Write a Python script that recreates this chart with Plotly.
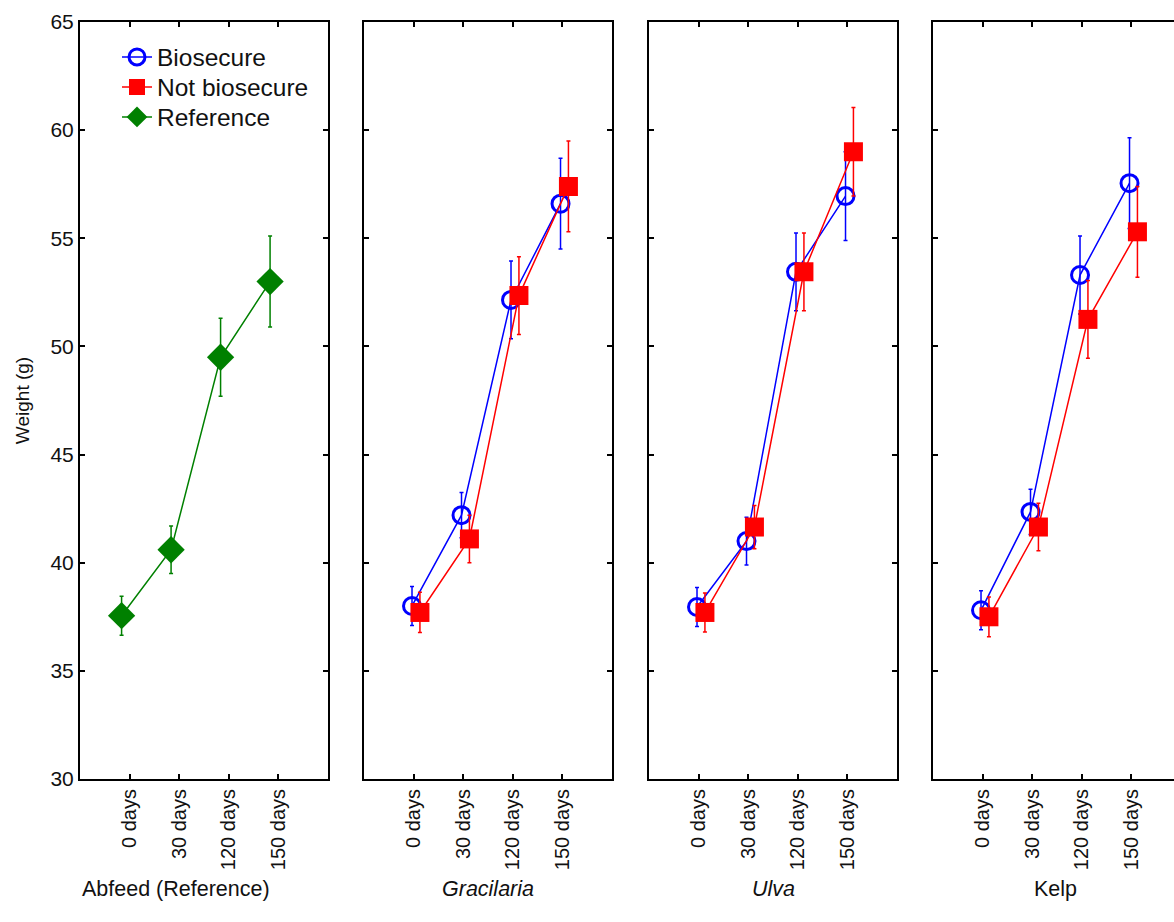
import plotly.graph_objects as go

days = ["0 days", "30 days", "120 days", "150 days"]
panels = ["Abfeed (Reference)", "<i>Gracilaria</i>", "<i>Ulva</i>", "Kelp"]

ref_mean = [37.55, 40.6, 49.5, 53.0]
ref_err = [0.9, 1.1, 1.8, 2.1]

grac_bio = [38.0, 42.2, 52.15, 56.6]
grac_bio_err = [0.9, 1.05, 1.8, 2.1]
grac_not = [37.7, 41.1, 52.35, 57.4]
grac_not_err = [0.93, 1.1, 1.8, 2.1]

ulva_bio = [37.95, 41.0, 53.45, 56.95]
ulva_bio_err = [0.9, 1.1, 1.8, 2.05]
ulva_not = [37.7, 41.65, 53.45, 59.0]
ulva_not_err = [0.9, 1.0, 1.8, 2.05]

kelp_bio = [37.8, 42.35, 53.3, 57.55]
kelp_bio_err = [0.9, 1.05, 1.8, 2.1]
kelp_not = [37.5, 41.65, 51.25, 55.3]
kelp_not_err = [0.92, 1.1, 1.8, 2.1]

W, H = 1174, 922
TOP, BOTTOM = 22, 779
PH = BOTTOM - TOP
FONT = "Arial, Liberation Sans, sans-serif"
TXT = "#111111"
BLUE, RED, GREEN = "#0000ff", "#ff0000", "#008000"

pos = [1, 2, 3, 4]
OFF_G, OFF_B, OFF_R = -0.16, -0.03, 0.13

fig = go.Figure()

def add(axis_i, vals, errs, color, name, symbol, size, off, showlegend, legend, lw_marker=0):
    sfx = "" if axis_i == 1 else str(axis_i)
    fig.add_trace(go.Scatter(
        x=[p + off for p in pos], y=vals,
        mode="lines+markers",
        name=name, legendgroup=name, showlegend=showlegend, legend=legend,
        line=dict(color=color, width=1.5),
        marker=dict(symbol=symbol, size=size, color=color,
                    line=dict(color=color, width=lw_marker)),
        error_y=dict(type="data", array=errs, visible=True, color=color,
                     thickness=1.5, width=2),
        xaxis="x" + sfx, yaxis="y" + sfx,
    ))

series = [
    (2, grac_bio, grac_bio_err, grac_not, grac_not_err),
    (3, ulva_bio, ulva_bio_err, ulva_not, ulva_not_err),
    (4, kelp_bio, kelp_bio_err, kelp_not, kelp_not_err),
]
for k, (ax, b, be, n, ne) in enumerate(series):
    add(ax, b, be, BLUE, "Biosecure", "circle-open", 17, OFF_B, k == 0, "legend", 3)
for k, (ax, b, be, n, ne) in enumerate(series):
    add(ax, n, ne, RED, "Not biosecure", "square", 19, OFF_R, k == 0, "legend2")
add(1, ref_mean, ref_err, GREEN, "Reference", "diamond", 21, OFF_G, True, "legend3")

panel_px = [(80, 327.5), (364, 611.5), (649, 896.5), (933, 1174)]
unit_px = 247.5 / 5.0

def leg(ypx):
    return dict(x=117 / W, y=(BOTTOM - ypx) / PH, xanchor="left", yanchor="middle",
                bgcolor="rgba(0,0,0,0)", font=dict(size=24.5, family=FONT, color=TXT),
                itemwidth=30)

layout = dict(
    width=W, height=H,
    margin=dict(l=0, r=0, t=TOP, b=H - BOTTOM, pad=0),
    paper_bgcolor="white", plot_bgcolor="white",
    font=dict(family=FONT, color=TXT),
    showlegend=True,
    legend=leg(57), legend2=leg(87), legend3=leg(117),
)

title_pos = [(80, "left"), (488, "center"), (773, "center"), (1055, "center")]
annotations = []
for i, (x0, x1) in enumerate(panel_px):
    sfx = "" if i == 0 else str(i + 1)
    rng_max = (x1 - x0) / unit_px
    layout["xaxis" + sfx] = dict(
        domain=[x0 / W, x1 / W], range=[0, rng_max],
        tickmode="array", tickvals=pos, ticktext=days,
        tickangle=-90, ticks="inside", ticklen=5, tickwidth=2, tickcolor="black",
        showline=True, linecolor="black", linewidth=2, mirror="ticks",
        showgrid=False, zeroline=False, fixedrange=True,
        tickfont=dict(size=20, family=FONT, color=TXT),
        anchor="y" + sfx, automargin=False,
    )
    layout["yaxis" + sfx] = dict(
        domain=[0, 1], range=[30, 65], tickmode="linear", tick0=30, dtick=5,
        ticks="inside", ticklen=5, tickwidth=2, tickcolor="black",
        showline=True, linecolor="black", linewidth=2,
        mirror=("ticks" if i < 3 else False),
        showgrid=False, zeroline=False, fixedrange=True,
        showticklabels=(i == 0),
        tickfont=dict(size=21, family=FONT, color=TXT),
        anchor="x" + sfx, automargin=False,
    )
    tx, anc = title_pos[i]
    annotations.append(dict(
        text=panels[i], xref="paper", yref="paper",
        x=tx / W, y=(BOTTOM - 889) / PH, xanchor=anc, yanchor="middle",
        showarrow=False, font=dict(size=21.5, family=FONT, color=TXT),
    ))
layout["yaxis"]["title"] = dict(text="Weight (g)", font=dict(size=19, family=FONT, color=TXT), standoff=16)
layout["annotations"] = annotations

fig.update_layout(**layout)
fig.write_html("out.html")
